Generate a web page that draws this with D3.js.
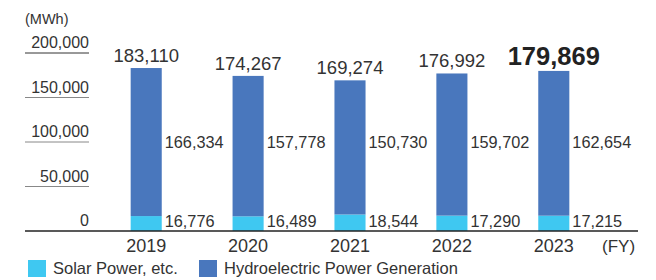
<!DOCTYPE html>
<html>
<head>
<meta charset="utf-8">
<script src="https://cdn.jsdelivr.net/npm/d3@7"></script>
<style>
  body { margin: 0; background: #fff; }
  text { font-family: "Liberation Sans", Arial, sans-serif; fill: #333; }
</style>
</head>
<body>
<div id="chart"></div>
<script>
// data
var years = ['2019', '2020', '2021', '2022', '2023'];
var solar = [16776, 16489, 18544, 17290, 17215];
var hydro = [166334, 157778, 150730, 159702, 162654];
var totals = [183110, 174267, 169274, 176992, 179869];
var yTicks = [0, 50000, 100000, 150000, 200000];

var W = 656, H = 280;
var svg = d3.select('#chart').append('svg')
  .attr('width', W).attr('height', H);

var x = d3.scaleBand().domain(years).range([95, 605]).paddingInner(0.695).paddingOuter(0.35);
var y = d3.scaleLinear().domain([0, 200000]).range([231, 53]);
var fmt = d3.format(',');

var cSolar = '#3fc8f1', cHydro = '#4977bd';

// unit
svg.append('text').attr('x', 25).attr('y', 24).style('font-size', '14.5px').text('(MWh)');

// short tick lines + labels on the left
yTicks.forEach(function(t){
  if (t > 0) {
    svg.append('line')
      .attr('x1', 25).attr('x2', 89)
      .attr('y1', y(t)).attr('y2', y(t))
      .attr('stroke', t == 200000 ? '#333' : '#888').attr('stroke-width', 1);
  }
  svg.append('text')
    .attr('x', 89).attr('y', y(t) - 5)
    .attr('text-anchor', 'end')
    .style('font-size', '16px')
    .text(fmt(t));
});

var data = years.map(function(yr, i){
  return {year: yr, solar: solar[i], hydro: hydro[i], total: totals[i]};
});

// solar part
svg.selectAll('.solar').data(data).enter().append('rect')
  .attr('x', function(d){ return x(d.year); })
  .attr('width', x.bandwidth())
  .attr('y', function(d){ return y(d.solar); })
  .attr('height', function(d){ return y(0) - y(d.solar); })
  .attr('fill', cSolar);

// hydro part on top
svg.selectAll('.hydro').data(data).enter().append('rect')
  .attr('x', function(d){ return x(d.year); })
  .attr('width', x.bandwidth())
  .attr('y', function(d){ return y(d.solar + d.hydro); })
  .attr('height', function(d){ return y(d.solar) - y(d.solar + d.hydro); })
  .attr('fill', cHydro);

// baseline
svg.append('line')
  .attr('x1', 25).attr('x2', 638)
  .attr('y1', y(0)).attr('y2', y(0))
  .attr('stroke', '#222').attr('stroke-width', 1.6);

// value labels to the right of each bar
svg.selectAll('.hl').data(data).enter().append('text')
  .attr('x', function(d){ return x(d.year) + x.bandwidth() + 3; })
  .attr('y', y(100000) + 6)
  .style('font-size', '16.3px')
  .text(function(d){ return fmt(d.hydro); });

svg.selectAll('.sl').data(data).enter().append('text')
  .attr('x', function(d){ return x(d.year) + x.bandwidth() + 3; })
  .attr('y', y(0) - 4.5)
  .style('font-size', '16.3px')
  .text(function(d){ return fmt(d.solar); });

// totals above bars, last one bold
svg.selectAll('.tl').data(data).enter().append('text')
  .attr('x', function(d){ return x(d.year) + x.bandwidth() / 2; })
  .attr('y', function(d){ return y(d.total) - 6; })
  .attr('text-anchor', 'middle')
  .style('font-size', function(d, i){ return i == data.length - 1 ? '25.5px' : '18.5px'; })
  .style('font-weight', function(d, i){ return i == data.length - 1 ? 'bold' : 'normal'; })
  .style('fill', function(d, i){ return i == data.length - 1 ? '#222' : '#333'; })
  .text(function(d){ return fmt(d.total); });

// year labels
svg.selectAll('.yr').data(years).enter().append('text')
  .attr('x', function(d){ return x(d) + x.bandwidth() / 2; })
  .attr('y', 252)
  .attr('text-anchor', 'middle')
  .style('font-size', '18px')
  .text(function(d){ return d; });

svg.append('text').attr('x', 602).attr('y', 252).style('font-size', '17px').text('(FY)');

// legend
var legend = [['Solar Power, etc.', cSolar, 28], ['Hydroelectric Power Generation', cHydro, 199]];
legend.forEach(function(l){
  svg.append('rect').attr('x', l[2]).attr('y', 260).attr('width', 18).attr('height', 17).attr('fill', l[1]);
  svg.append('text').attr('x', l[2] + 25).attr('y', 274).style('font-size', '16.5px').text(l[0]);
});
</script>
</body>
</html>
